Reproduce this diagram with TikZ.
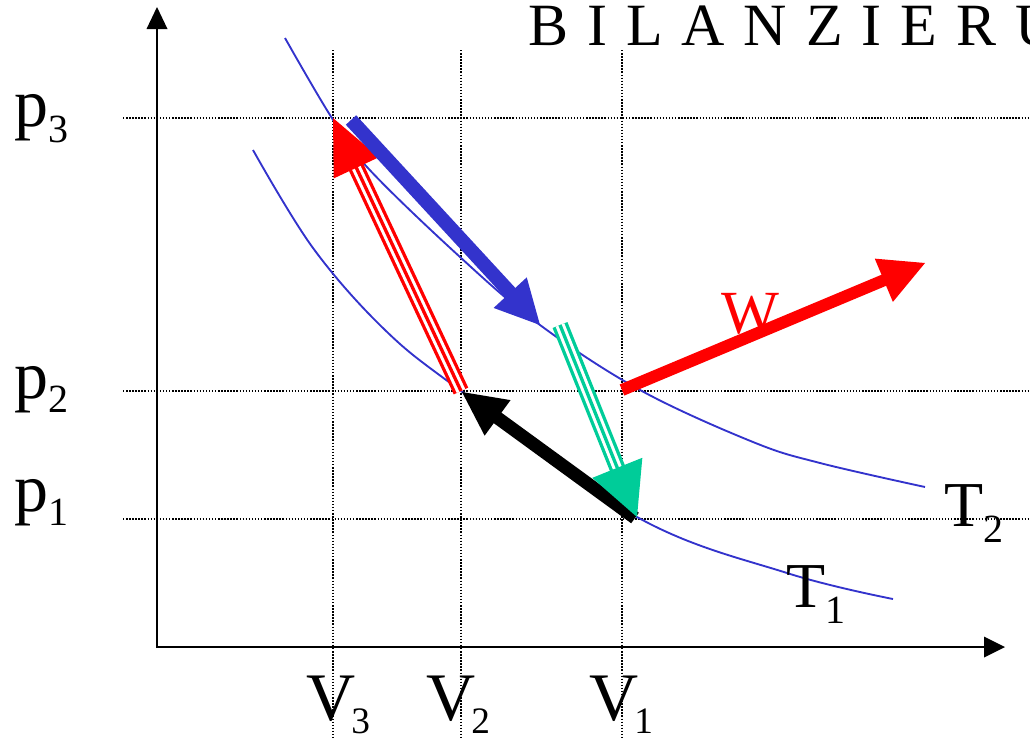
\documentclass[tikz,border=0pt]{standalone}
\usepackage{fontspec}
\setmainfont{Liberation Serif}
\usetikzlibrary{calc}
\definecolor{cblue}{HTML}{3333CC}
\definecolor{cgreen}{HTML}{00CC99}
\definecolor{cred}{HTML}{FF0000}
% #1 colour, #2 from, #3 tip, #4 head length, #5 half width
\newcommand\arrowhd[5]{\fill[#1] (#3) -- ($(#3)!#4!(#2)!#5!90:(#2)$) -- ($(#3)!#4!(#2)!#5!-90:(#2)$) -- cycle;}
\newcommand\sbx[3]{\raisebox{-#1}{\fontsize{#2}{#2}\selectfont #3}}
\begin{document}
\begin{tikzpicture}[x=0.75pt,y=-0.75pt,
  grid/.style={line width=1.1pt,dash pattern=on 1.1pt off 1.2pt},
  iso/.style={cblue,line width=1.4pt},
  axis/.style={line width=1.5pt},
  lbl/.style={anchor=base west,inner sep=0pt,font=\fontsize{51}{60}\selectfont},
  tlbl/.style={anchor=base west,inner sep=0pt,font=\fontsize{48}{56}\selectfont}]
\useasboundingbox (0,0) rectangle (1030,739);
% grid
\draw[grid] (123,118) -- (1030,118);
\draw[grid] (123,391) -- (1030,391);
\draw[grid] (123,519) -- (1030,519);
\draw[grid] (333,50) -- (333,739);
\draw[grid] (461,50) -- (461,739);
\draw[grid] (622,50) -- (622,739);
% axes
\coordinate (O) at (157,647);
\coordinate (ytip) at (157,7);
\coordinate (xtip) at (1005,647);
\draw[axis] (157,648) -- ($(ytip)+(0,19)$);
\draw[axis] (O) -- ($(xtip)+(-19,0)$);
\fill (ytip) -- (146.5,29) -- (167.5,29) -- cycle;
\fill (xtip) -- (984,636.5) -- (984,657.5) -- cycle;
% isotherms
\draw[iso] plot[smooth,tension=0.6] coordinates {(285,38) (330,115) (367,167) (460,257) (540,325) (640,390) (753,442) (820,463) (925,487)};
\draw[iso] plot[smooth,tension=0.6] coordinates {(253,150) (313,248) (385,330) (461,391) (637,517) (787,573) (893,599)};
% states
\coordinate (rt0) at (461,391);
\coordinate (rt1) at (333,118);
\coordinate (bt0) at (351,120);
\coordinate (bt1) at (540,325);
\coordinate (gt0) at (560,325);
\coordinate (gt1) at (637,517);
\coordinate (kt0) at (635,518);
\coordinate (kt1) at (462,392);
\coordinate (wt0) at (622,390);
\coordinate (wt1) at (925,263);
% black arrow
\draw[black,line width=9.75pt,shorten >=25pt] (kt0) -- (kt1);
\arrowhd{black}{kt0}{kt1}{33pt}{16.5pt}
% green triple arrow
\draw[cgreen,line width=12pt,shorten >=28pt] (gt0) -- (gt1);
\draw[white,line width=7pt,shorten >=28pt] (gt0) -- (gt1);
\draw[cgreen,line width=2.5pt,shorten >=28pt] (gt0) -- (gt1);
\arrowhd{cgreen}{gt0}{gt1}{39.75pt}{20.25pt}
% red triple arrow
\draw[cred,line width=12pt,shorten >=30pt] (rt0) -- (rt1);
\draw[white,line width=7pt,shorten >=30pt] (rt0) -- (rt1);
\draw[cred,line width=2.5pt,shorten >=30pt] (rt0) -- (rt1);
\arrowhd{cred}{rt0}{rt1}{41.25pt}{18.75pt}
% blue arrow
\draw[cblue,line width=10.5pt,shorten >=25pt] (bt0) -- (bt1);
\arrowhd{cblue}{bt0}{bt1}{33pt}{16.9pt}
% work arrow
\draw[cred,line width=9pt,shorten >=25pt] (wt0) -- (wt1);
\arrowhd{cred}{wt0}{wt1}{33.5pt}{17.6pt}
\node[anchor=base west,inner sep=0pt,text=cred,font=\fontsize{46}{52}\selectfont] (W) at (721,333) {W};
% labels
\node[lbl] (p3) at (14,126) {p\sbx{12pt}{30}{3}};
\node[lbl] (p2) at (14,398) {p\sbx{11pt}{30}{2}};
\node[lbl] (p1) at (14,511) {p\sbx{11pt}{30}{1}};
\node[lbl] (V3) at (306,720) {V\kern-3pt\sbx{10pt}{28}{3}};
\node[lbl] (V2) at (426,720) {V\kern-3pt\sbx{10pt}{28}{2}};
\node[lbl] (V1) at (589,720) {V\kern-3pt\sbx{10pt}{28}{1}};
\node[tlbl] (T2) at (944,526) {T\sbx{12pt}{30}{2}};
\node[tlbl] (T1) at (786,607) {T\sbx{12pt}{30}{1}};
\node[anchor=base west,inner sep=0pt,font=\fontsize{45}{50}\selectfont] (title) at (528,45) {\spaceskip=14.2pt B I L A N Z I E R U};
\end{tikzpicture}
\end{document}
